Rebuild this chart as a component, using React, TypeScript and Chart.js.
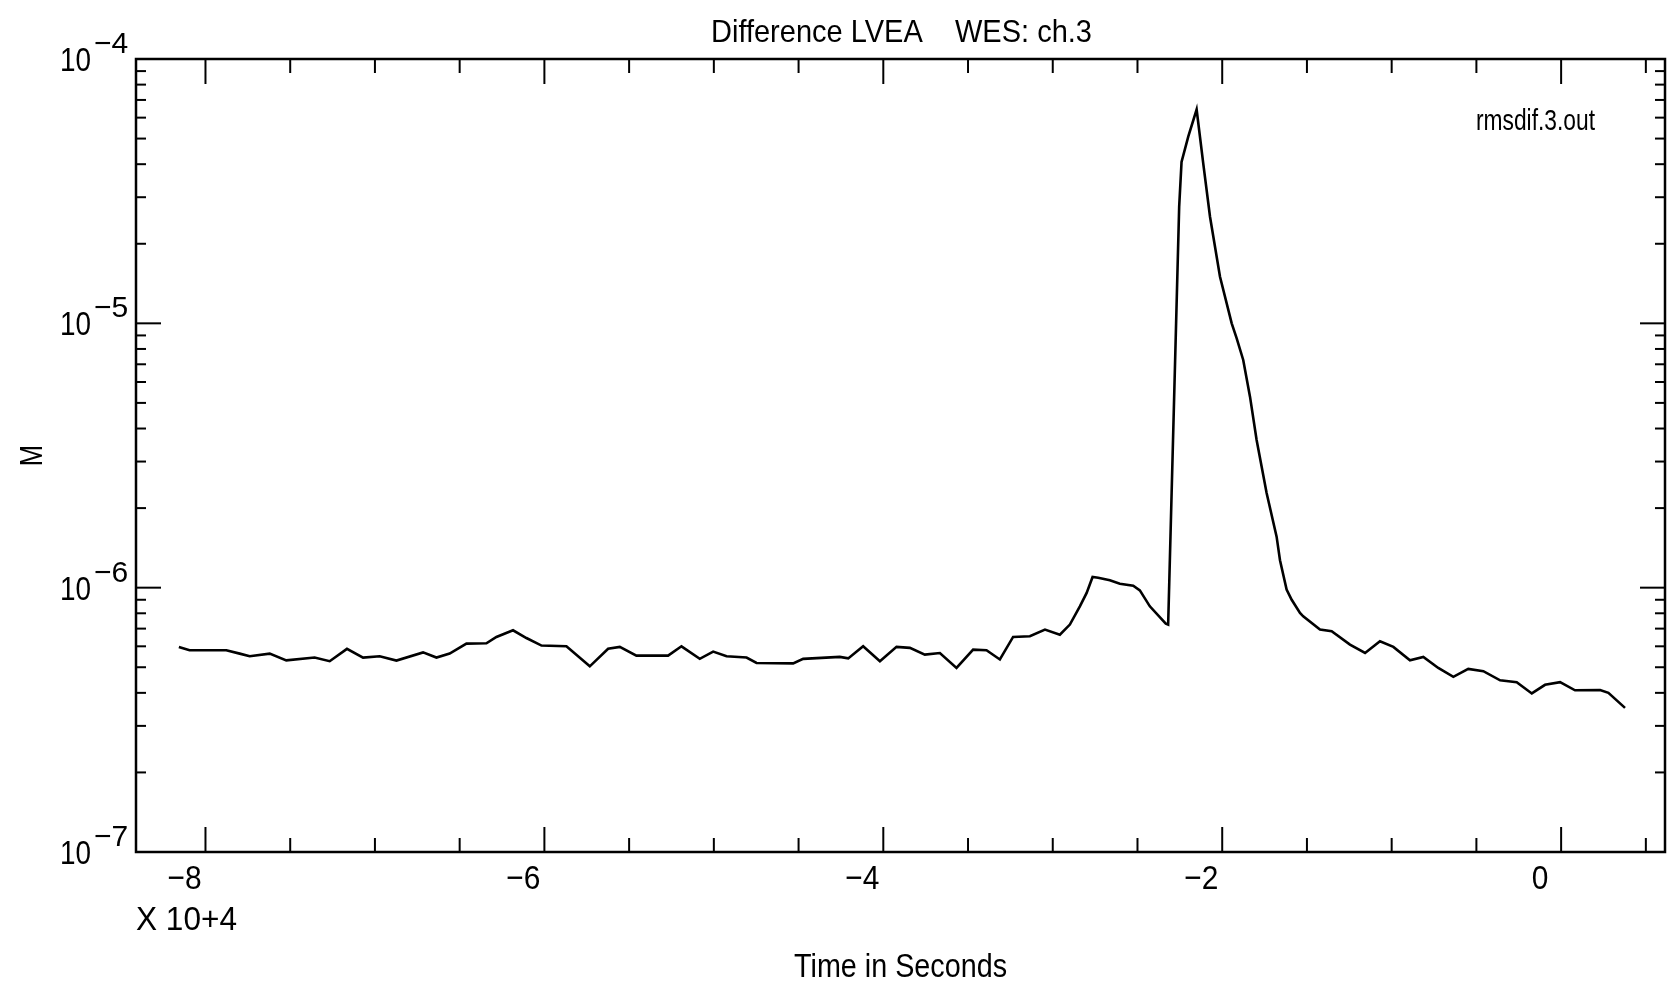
import { useEffect, useRef } from "react";
import { Chart, registerables } from "chart.js";

Chart.register(...registerables);

// Time in units of 10^4 seconds
const timeX = [
  -8.157, -8.094, -7.877, -7.798, -7.739, -7.621, -7.523, -7.356, -7.267, -7.165,
  -7.07, -6.972, -6.873, -6.716, -6.637, -6.559, -6.46, -6.342, -6.283, -6.185,
  -6.106, -6.017, -5.87, -5.732, -5.624, -5.555, -5.457, -5.27, -5.191, -5.083,
  -5.004, -4.925, -4.807, -4.748, -4.532, -4.473, -4.257, -4.207, -4.119, -4.02,
  -3.922, -3.843, -3.755, -3.666, -3.568, -3.47, -3.391, -3.312, -3.234, -3.135,
  -3.046, -2.958, -2.899, -2.84, -2.8, -2.765, -2.732, -2.663, -2.604, -2.525,
  -2.486, -2.427, -2.333, -2.319, -2.254, -2.24, -2.2, -2.151, -2.112, -2.072,
  -2.013, -1.944, -1.915, -1.876, -1.836, -1.797, -1.738, -1.679, -1.659, -1.62,
  -1.59, -1.541, -1.522, -1.423, -1.354, -1.246, -1.157, -1.069, -0.99, -0.892,
  -0.813, -0.725, -0.636, -0.548, -0.459, -0.36, -0.262, -0.173, -0.095, -0.006,
  0.082, 0.23, 0.279, 0.377,
];

// RMS difference (M)
const rmsM = [
  5.97e-7, 5.8e-7, 5.8e-7, 5.63e-7, 5.5e-7, 5.63e-7, 5.31e-7, 5.44e-7, 5.27e-7, 5.87e-7,
  5.44e-7, 5.5e-7, 5.3e-7, 5.69e-7, 5.44e-7, 5.63e-7, 6.14e-7, 6.16e-7, 6.51e-7, 6.9e-7,
  6.45e-7, 6.04e-7, 6.0e-7, 5.04e-7, 5.87e-7, 5.97e-7, 5.53e-7, 5.53e-7, 6.0e-7, 5.38e-7,
  5.73e-7, 5.5e-7, 5.44e-7, 5.19e-7, 5.17e-7, 5.38e-7, 5.47e-7, 5.4e-7, 6.0e-7, 5.27e-7,
  5.97e-7, 5.92e-7, 5.58e-7, 5.66e-7, 4.97e-7, 5.83e-7, 5.8e-7, 5.35e-7, 6.51e-7, 6.55e-7,
  6.94e-7, 6.64e-7, 7.25e-7, 8.5e-7, 9.55e-7, 1.098e-6, 1.09e-6, 1.066e-6, 1.035e-6, 1.018e-6,
  9.77e-7, 8.5e-7, 7.31e-7, 7.25e-7, 2.76e-5, 4.08e-5, 5.1e-5, 6.44e-5, 4.03e-5, 2.53e-5,
  1.5e-5, 1.0e-5, 8.79e-6, 7.27e-6, 5.28e-6, 3.62e-6, 2.28e-6, 1.56e-6, 1.27e-6, 9.83e-7,
  9.0e-7, 8.02e-7, 7.79e-7, 6.94e-7, 6.84e-7, 6.09e-7, 5.66e-7, 6.27e-7, 5.97e-7, 5.31e-7,
  5.47e-7, 4.97e-7, 4.6e-7, 4.93e-7, 4.83e-7, 4.46e-7, 4.39e-7, 3.98e-7, 4.29e-7, 4.39e-7,
  4.09e-7, 4.1e-7, 4.0e-7, 3.51e-7,
];

const xMajorTicks = [-8, -6, -4, -2, 0];
const xMinorTicks = [-7.5, -7, -6.5, -5.5, -5, -4.5, -3.5, -3, -2.5, -1.5, -1, -0.5, 0.5];
const xTickLabels = ["−8", "−6", "−4", "−2", "0"];
const yDecadeExponents = [-7, -6, -5, -4];
const yMinorMultipliers = [2, 3, 4, 5, 6, 7, 8, 9];

const titleText = "Difference LVEA    WES: ch.3";
const fileLabel = "rmsdif.3.out";
const xAxisTitle = "Time in Seconds";
const xMultiplierLabel = "X 10+4";
const yAxisTitle = "M";

const FONT = '"Liberation Sans", Arial, "DejaVu Sans", sans-serif';

function fitText(ctx: CanvasRenderingContext2D, text: string, left: number, right: number, baseline: number, size: number) {
  ctx.save();
  ctx.font = `${size}px ${FONT}`;
  const w = ctx.measureText(text).width;
  const sx = (right - left) / w;
  ctx.translate(left, baseline);
  ctx.scale(sx, 1);
  ctx.textAlign = "left";
  ctx.textBaseline = "alphabetic";
  ctx.fillText(text, 0, 0);
  ctx.restore();
}

function scaledText(
  ctx: CanvasRenderingContext2D,
  text: string,
  x: number,
  y: number,
  size: number,
  sx: number,
  align: CanvasTextAlign,
  baseline: CanvasTextBaseline,
  rot = 0
) {
  ctx.save();
  ctx.font = `${size}px ${FONT}`;
  ctx.translate(x, y);
  if (rot) ctx.rotate(rot);
  ctx.scale(sx, 1);
  ctx.textAlign = align;
  ctx.textBaseline = baseline;
  ctx.fillText(text, 0, 0);
  ctx.restore();
}

const framePlugin = {
  id: "oldPlotFrame",
  afterDraw(chart: any) {
    const { ctx, chartArea: a } = chart;
    const xs = chart.scales.x;
    const ys = chart.scales.y;
    ctx.save();
    ctx.fillStyle = "#000";
    ctx.strokeStyle = "#000";

    // frame
    ctx.lineWidth = 2.5;
    ctx.strokeRect(a.left, a.top, a.right - a.left, a.bottom - a.top);

    const seg = (x1: number, y1: number, x2: number, y2: number) => {
      ctx.beginPath();
      ctx.moveTo(x1, y1);
      ctx.lineTo(x2, y2);
      ctx.stroke();
    };

    // x ticks (inward, bottom and top)
    ctx.lineWidth = 2;
    for (const v of xMajorTicks) {
      const px = xs.getPixelForValue(v);
      seg(px, a.bottom, px, a.bottom - 25);
      seg(px, a.top, px, a.top + 25);
    }
    for (const v of xMinorTicks) {
      const px = xs.getPixelForValue(v);
      seg(px, a.bottom, px, a.bottom - 14);
      seg(px, a.top, px, a.top + 14);
    }

    // y ticks (inward, left and right)
    for (const e of yDecadeExponents) {
      const py = ys.getPixelForValue(Math.pow(10, e));
      seg(a.left, py, a.left + 25, py);
      seg(a.right, py, a.right - 25, py);
      if (e < -4) {
        for (const m of yMinorMultipliers) {
          const pm = ys.getPixelForValue(m * Math.pow(10, e));
          seg(a.left, pm, a.left + 10, pm);
          seg(a.right, pm, a.right - 10, pm);
        }
      }
    }

    // x tick labels
    xMajorTicks.forEach((v, i) => {
      const px = xs.getPixelForValue(v);
      scaledText(ctx, xTickLabels[i], px - 21, a.bottom + 37, 34, 0.88, "center", "alphabetic");
    });

    // y tick labels: 10 with superscript exponent
    for (const e of yDecadeExponents) {
      const py = ys.getPixelForValue(Math.pow(10, e));
      scaledText(ctx, "10", a.left - 45, py + 12, 34, 0.82, "right", "alphabetic");
      scaledText(ctx, `−${Math.abs(e)}`, a.left - 42, py - 6, 30, 1.0, "left", "alphabetic");
    }

    // titles
    fitText(ctx, titleText, 711, 1092, 42, 32);
    fitText(ctx, fileLabel, 1476, 1595, 130, 30);
    fitText(ctx, xMultiplierLabel, 136, 237, 930, 34);
    fitText(ctx, xAxisTitle, 794, 1007, 977, 33);
    scaledText(ctx, yAxisTitle, 33, (a.top + a.bottom) / 2, 32, 0.8, "center", "middle", -Math.PI / 2);

    ctx.restore();
  },
};

export default function App() {
  const ref = useRef<HTMLCanvasElement>(null);

  useEffect(() => {
    const prevMargin = document.body.style.margin;
    document.body.style.margin = "0";
    const points = timeX.map((x, i) => ({ x, y: rmsM[i] }));
    const chart = new Chart(ref.current as HTMLCanvasElement, {
      type: "line",
      data: {
        datasets: [
          {
            data: points,
            borderColor: "#000",
            borderWidth: 2.6,
            pointRadius: 0,
            tension: 0,
            fill: false,
          },
        ],
      },
      options: {
        animation: false,
        responsive: false,
        devicePixelRatio: 1,
        layout: { padding: { left: 136, right: 6, top: 59, bottom: 130 } },
        plugins: { legend: { display: false }, tooltip: { enabled: false }, title: { display: false } },
        scales: {
          x: { type: "linear", min: -8.41, max: 0.613, display: false },
          y: { type: "logarithmic", min: 1e-7, max: 1e-4, display: false },
        },
      },
      plugins: [framePlugin],
    });
    return () => {
      chart.destroy();
      document.body.style.margin = prevMargin;
    };
  }, []);

  return (
    <div style={{ width: 1671, height: 982, background: "#fff", overflow: "hidden" }}>
      <canvas ref={ref} width={1671} height={982} style={{ display: "block" }} />
    </div>
  );
}
